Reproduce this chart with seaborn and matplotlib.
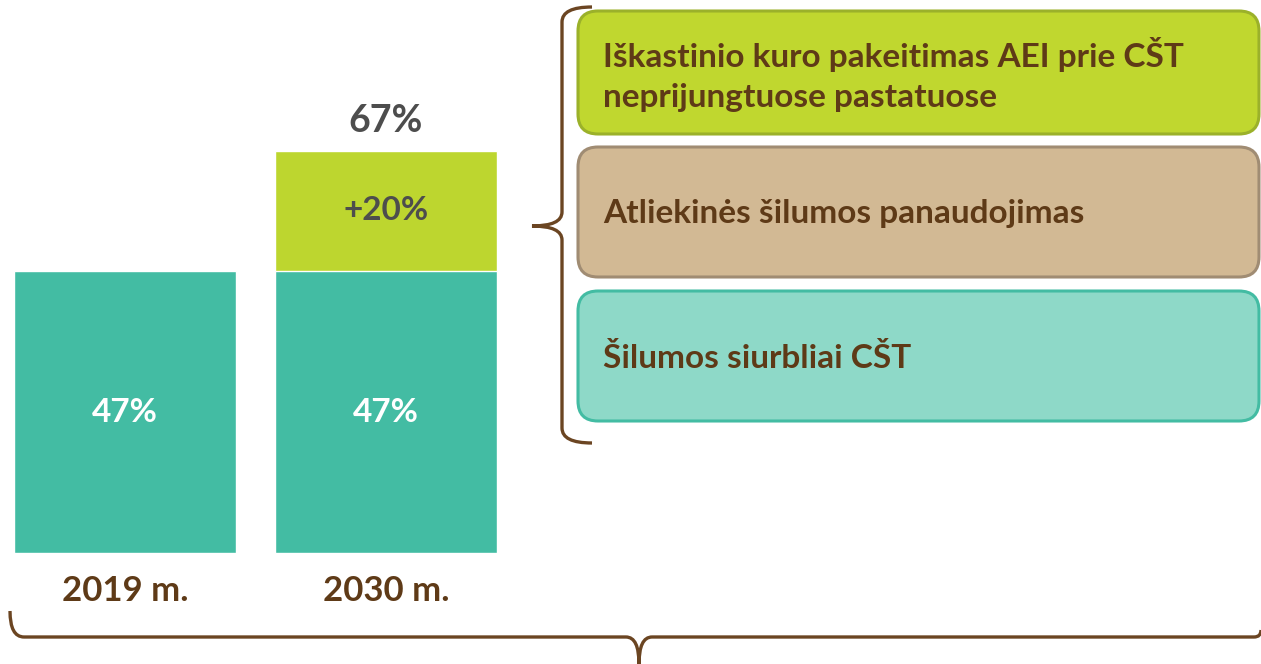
import matplotlib
matplotlib.use("Agg")
import matplotlib.pyplot as plt
from matplotlib.patches import FancyBboxPatch, PathPatch
from matplotlib.path import Path
import seaborn as sns

# data
years = ["2019 m.", "2030 m."]
base_share = [47, 47]
added_share = [0, 20]
total_share = [b + a for b, a in zip(base_share, added_share)]

measures = [
    "Iškastinio kuro pakeitimas AEI prie CŠT\nneprijungtuose pastatuose",
    "Atliekinės šilumos panaudojimas",
    "Šilumos siurbliai CŠT",
]

# colours
teal = "#43BCA3"
lime = "#BDD62F"
brown = "#5E3A17"
brace_col = "#6B4522"
grey = "#4D4D4D"
box_fill = ["#C0D72F", "#D2B994", "#8ED9C8"]
box_edge = ["#9BB12A", "#A08C73", "#43BCA3"]

sns.set_style("white")
plt.rcParams["font.family"] = ["Lato", "DejaVu Sans"]

W, H = 1261, 664
fig = plt.figure(figsize=(W / 100, H / 100), dpi=100)

# bar chart area (pixel layout of the reference)
ax = fig.add_axes([0, (H - 553) / H, 520 / W, 553 / H])
sns.barplot(x=years, y=total_share, color=lime, saturation=1, width=0.85, ax=ax)
sns.barplot(x=years, y=base_share, color=teal, saturation=1, width=0.85, ax=ax)
ax.set_xlim(-125 / 261, (520 - 125) / 261)
ax.set_ylim(0, 553 / (282 / 47))
sns.despine(ax=ax, left=True, bottom=True)
ax.set_yticks([])
ax.set_ylabel("")
ax.tick_params(axis="x", length=0, pad=16)
for lab in ax.get_xticklabels():
    lab.set_fontsize(25)
    lab.set_fontweight("bold")
    lab.set_color(brown)

for i, (b, a, t) in enumerate(zip(base_share, added_share, total_share)):
    ax.text(i, b / 2, f"{b}%", ha="center", va="center", color="white",
            fontsize=24, fontweight="bold")
    if a:
        ax.text(i, b + a / 2, f"+{a}%", ha="center", va="center", color=grey,
                fontsize=24, fontweight="bold")
        ax.text(i, t + 5, f"{t}%", ha="center", va="center", color=grey,
                fontsize=27, fontweight="bold")

# overlay in pixel coordinates for boxes and braces
ov = fig.add_axes([0, 0, 1, 1])
ov.set_xlim(0, W)
ov.set_ylim(H, 0)
ov.axis("off")
ov.patch.set_alpha(0)

box_top = [11, 147, 291]
box_h = [123, 130, 130]
r = 20
for txt, y0, h, fc, ec in zip(measures, box_top, box_h, box_fill, box_edge):
    ov.add_patch(FancyBboxPatch((578 + r, y0 + r), 1259 - 578 - 2 * r, h - 2 * r,
                                boxstyle=f"round,pad={r},rounding_size={r}",
                                fc=fc, ec=ec, lw=2.2))
    ov.text(603, y0 + h / 2 + 2, txt, ha="left", va="center", color=brown,
            fontsize=24, fontweight="bold", linespacing=1.5)

# right curly brace
C = Path.CURVE3
verts = [(592, 7), (562, 7), (562, 22), (562, 212), (562, 226), (532, 226),
         (562, 226), (562, 240), (562, 428), (562, 443), (592, 443)]
codes = [Path.MOVETO, C, C, Path.LINETO, C, C, C, C, Path.LINETO, C, C]
ov.add_patch(PathPatch(Path(verts, codes), fc="none", ec=brace_col, lw=2.4))

# bottom curly brace
verts = [(10, 611), (10, 637), (24, 637), (626, 637), (639, 637), (639, 664),
         (639, 637), (652, 637), (1254, 637), (1261, 637), (1261, 630)]
ov.add_patch(PathPatch(Path(verts, codes), fc="none", ec=brace_col, lw=2.4))

fig.savefig("out.png", dpi=100)
